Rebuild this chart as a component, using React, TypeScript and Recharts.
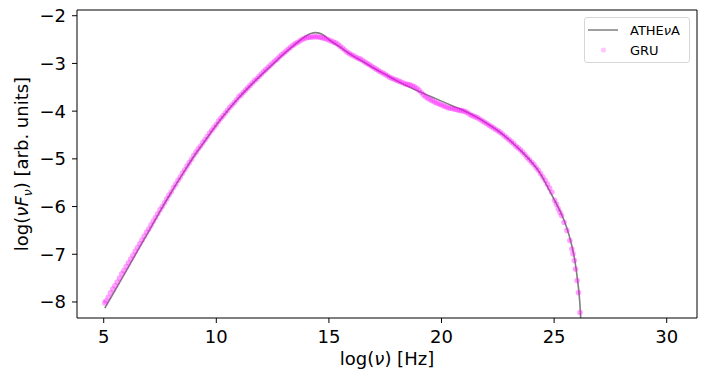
import React from 'react';
import { ComposedChart, Line, Scatter, XAxis, YAxis, Legend, ReferenceLine } from 'recharts';

// ATHEνA model curve
const ATHENA_X = [5.05, 5.5, 6, 6.5, 7, 7.5, 8, 8.5, 9, 9.5, 10, 10.5, 11, 11.5, 12, 12.5, 13, 13.5, 14, 14.2, 14.4, 14.6, 14.8, 15, 15.5, 16, 16.5, 17, 17.5, 18, 18.5, 19, 19.5, 20, 20.5, 21, 21.5, 22, 22.5, 23, 23.5, 24, 24.4, 24.7, 25.1, 25.3, 25.55, 25.75, 25.92, 26.06, 26.14, 26.18, 26.22];
const ATHENA_Y = [-8.13, -7.76, -7.35, -6.93, -6.52, -6.10, -5.70, -5.32, -4.95, -4.62, -4.29, -3.99, -3.72, -3.47, -3.24, -3.02, -2.80, -2.60, -2.42, -2.375, -2.355, -2.37, -2.42, -2.50, -2.66, -2.82, -2.96, -3.10, -3.23, -3.36, -3.48, -3.59, -3.69, -3.79, -3.89, -3.99, -4.11, -4.25, -4.41, -4.60, -4.82, -5.07, -5.32, -5.58, -5.94, -6.13, -6.43, -6.75, -7.13, -7.62, -8.0, -8.32, -8.7];

// GRU prediction points
const GRU_X = [
  5.05,
  5.1, 5.2, 5.3, 5.4, 5.5, 5.6, 5.7, 5.8, 5.9, 6.0,
  6.1, 6.2, 6.3, 6.4, 6.5, 6.6, 6.7, 6.8, 6.9, 7.0,
  7.1, 7.2, 7.3, 7.4, 7.5, 7.6, 7.7, 7.8, 7.9, 8.0,
  8.1, 8.2, 8.3, 8.4, 8.5, 8.6, 8.7, 8.8, 8.9, 9.0,
  9.1, 9.2, 9.3, 9.4, 9.5, 9.6, 9.7, 9.8, 9.9, 10.0,
  10.1, 10.2, 10.3, 10.4, 10.5, 10.6, 10.7, 10.8, 10.9, 11.0,
  11.1, 11.2, 11.3, 11.4, 11.5, 11.6, 11.7, 11.8, 11.9, 12.0,
  12.1, 12.2, 12.3, 12.4, 12.5, 12.6, 12.7, 12.8, 12.9, 13.0,
  13.1, 13.2, 13.3, 13.4, 13.5, 13.6, 13.7, 13.8, 13.9, 14.0,
  14.1, 14.2, 14.3, 14.4, 14.5, 14.6, 14.7, 14.8, 14.9, 15.0,
  15.1, 15.2, 15.3, 15.4, 15.5, 15.6, 15.7, 15.8, 15.9, 16.0,
  16.1, 16.2, 16.3, 16.4, 16.5, 16.6, 16.7, 16.8, 16.9, 17.0,
  17.1, 17.2, 17.3, 17.4, 17.5, 17.6, 17.7, 17.8, 17.9, 18.0,
  18.1, 18.2, 18.3, 18.4, 18.5, 18.6, 18.7, 18.8, 18.9, 19.0,
  19.1, 19.2, 19.3, 19.4, 19.5, 19.6, 19.7, 19.8, 19.9, 20.0,
  20.1, 20.2, 20.3, 20.4, 20.5, 20.6, 20.7, 20.8, 20.9, 21.0,
  21.1, 21.2, 21.3, 21.4, 21.5, 21.6, 21.7, 21.8, 21.9, 22.0,
  22.1, 22.2, 22.3, 22.4, 22.5, 22.6, 22.7, 22.8, 22.9, 23.0,
  23.1, 23.2, 23.3, 23.4, 23.5, 23.6, 23.7, 23.8, 23.9, 24.0,
  24.1, 24.2, 24.3, 24.4, 24.5, 24.6, 24.7, 24.8, 24.9,
  25.02, 25.1, 25.18, 25.26, 25.33, 25.44, 25.57, 25.70, 25.79, 25.84,
  25.90, 25.95, 26.02, 26.08, 26.15,
];
const GRU_Y = [
  -8.02,
  -7.98, -7.90, -7.81, -7.73, -7.66, -7.58, -7.50, -7.41, -7.34, -7.26,
  -7.18, -7.10, -7.02, -6.94, -6.86, -6.78, -6.70, -6.62, -6.54, -6.47,
  -6.39, -6.31, -6.23, -6.15, -6.07, -6.00, -5.92, -5.84, -5.76, -5.69,
  -5.60, -5.53, -5.45, -5.38, -5.30, -5.23, -5.15, -5.08, -5.01, -4.93,
  -4.86, -4.79, -4.73, -4.66, -4.60, -4.53, -4.46, -4.40, -4.34, -4.28,
  -4.21, -4.15, -4.10, -4.04, -3.98, -3.92, -3.87, -3.82, -3.76, -3.70,
  -3.66, -3.61, -3.56, -3.51, -3.46, -3.41, -3.36, -3.32, -3.27, -3.22,
  -3.17, -3.13, -3.08, -3.04, -2.99, -2.95, -2.91, -2.86, -2.82, -2.78,
  -2.74, -2.70, -2.66, -2.62, -2.59, -2.56, -2.53, -2.50, -2.48, -2.46,
  -2.45, -2.45, -2.44, -2.44, -2.44, -2.45, -2.46, -2.47, -2.49, -2.51,
  -2.53, -2.55, -2.57, -2.60, -2.64, -2.68, -2.72, -2.76, -2.79, -2.82,
  -2.84, -2.87, -2.89, -2.91, -2.94, -2.97, -3.00, -3.03, -3.06, -3.09,
  -3.12, -3.15, -3.18, -3.20, -3.23, -3.26, -3.29, -3.31, -3.33, -3.35,
  -3.37, -3.39, -3.41, -3.43, -3.44, -3.45, -3.47, -3.49, -3.52, -3.56,
  -3.61, -3.66, -3.70, -3.73, -3.76, -3.78, -3.81, -3.83, -3.85, -3.87,
  -3.89, -3.91, -3.93, -3.94, -3.95, -3.96, -3.97, -3.98, -3.99, -4.00,
  -4.02, -4.05, -4.08, -4.10, -4.12, -4.14, -4.17, -4.20, -4.23, -4.26,
  -4.29, -4.32, -4.35, -4.38, -4.41, -4.44, -4.48, -4.52, -4.56, -4.60,
  -4.64, -4.68, -4.73, -4.77, -4.81, -4.86, -4.91, -4.97, -5.02, -5.07,
  -5.12, -5.18, -5.24, -5.31, -5.38, -5.45, -5.53, -5.61, -5.70,
  -5.87, -5.95, -6.04, -6.12, -6.19, -6.33, -6.50, -6.71, -6.89, -6.99,
  -7.13, -7.31, -7.55, -7.80, -8.22,
];

const X_TICKS = [5, 10, 15, 20, 25, 30];
const Y_TICKS = [-8, -7, -6, -5, -4, -3, -2];
const X_DOMAIN = [3.814, 31.345];
const Y_DOMAIN = [-8.336, -1.88];
const SERIES_NAMES = ['ATHE\u03BDA', 'GRU'];

const athenaData = ATHENA_X.map((x, i) => ({ x, y: ATHENA_Y[i] }));
const gruData = GRU_X.map((x, i) => ({ x, y: GRU_Y[i] }));

const FONT = 'DejaVu Sans';
const fmt = (v: number) => (v < 0 ? '\u2212' + Math.abs(v) : String(v));

const GruDot = (props: any) => {
  const { cx, cy } = props;
  if (cx == null || cy == null) return null;
  return <circle cx={cx} cy={cy} r={2.8} fill="#ff00ff" fillOpacity={0.36} stroke="none" />;
};

const LegendBox = () => (
  <div
    style={{
      width: 106,
      height: 46,
      boxSizing: 'border-box',
      border: '1px solid #d6d6d6',
      borderRadius: 3,
      background: 'rgba(255,255,255,0.8)',
    }}
  >
    <svg width={104} height={44} style={{ display: 'block' }}>
      <line x1={3} y1={12} x2={33} y2={12} stroke="#808080" strokeWidth={1.5} />
      <text x={45} y={12} fontSize={13} fontFamily={FONT} dominantBaseline="central" fill="#000">
        ATHE<tspan fontStyle="italic">{'\u03BD'}</tspan>A
      </text>
      <circle cx={18.5} cy={32} r={2.6} fill="#ff00ff" fillOpacity={0.22} />
      <text x={45} y={32} fontSize={13} fontFamily={FONT} dominantBaseline="central" fill="#000">
        {SERIES_NAMES[1]}
      </text>
    </svg>
  </div>
);

export default function App() {
  return (
    <div style={{ position: 'absolute', left: 0, top: 0, width: 706, height: 385, background: '#fff' }}>
      <ComposedChart
        width={706}
        height={385}
        margin={{ top: 10, right: 9, bottom: 0, left: 0 }}
        style={{ fontFamily: FONT }}
      >
        <XAxis
          dataKey="x"
          type="number"
          domain={X_DOMAIN}
          ticks={X_TICKS}
          allowDataOverflow
          height={67}
          tickSize={5}
          tickMargin={7}
          tickFormatter={fmt}
          axisLine={{ stroke: '#000', strokeWidth: 1 }}
          tickLine={{ stroke: '#000', strokeWidth: 1 }}
          tick={{ fontSize: 18, fill: '#000', fontFamily: FONT }}
          label={{
            content: () => (
              <text x={387} y={365} textAnchor="middle" fontSize={18} fontFamily={FONT} fill="#000">
                log(<tspan fontStyle="italic">{'\u03BD'}</tspan>) [Hz]
              </text>
            ),
          }}
        />
        <YAxis
          dataKey="y"
          type="number"
          domain={Y_DOMAIN}
          ticks={Y_TICKS}
          allowDataOverflow
          width={77}
          tickSize={5}
          tickMargin={6}
          tickFormatter={fmt}
          axisLine={{ stroke: '#000', strokeWidth: 1 }}
          tickLine={{ stroke: '#000', strokeWidth: 1 }}
          tick={{ fontSize: 18, fill: '#000', fontFamily: FONT }}
          label={{
            content: () => (
              <text
                x={28}
                y={164}
                transform="rotate(-90, 28, 164)"
                textAnchor="middle"
                fontSize={18}
                fontFamily={FONT}
                fill="#000"
              >
                log(<tspan fontStyle="italic">{'\u03BD'}F</tspan>
                <tspan fontStyle="italic" fontSize={12.6} dy={3.5}>{'\u03BD'}</tspan>
                <tspan dy={-3.5}>) [arb. units]</tspan>
              </text>
            ),
          }}
        />
        <ReferenceLine x={X_DOMAIN[1]} stroke="#000" strokeWidth={1} />
        <ReferenceLine y={Y_DOMAIN[1]} stroke="#000" strokeWidth={1} />
        <Line
          data={athenaData}
          dataKey="y"
          name={SERIES_NAMES[0]}
          type="monotone"
          stroke="#808080"
          strokeWidth={1.6}
          dot={false}
          activeDot={false}
          isAnimationActive={false}
        />
        <Scatter
          data={gruData}
          dataKey="y"
          name={SERIES_NAMES[1]}
          fill="#ff00ff"
          shape={GruDot}
          isAnimationActive={false}
        />
        <Legend
          layout="vertical"
          align="center"
          verticalAlign="middle"
          wrapperStyle={{ position: 'absolute', left: 584, top: 17, width: 106, height: 46 }}
          content={() => <LegendBox />}
        />
      </ComposedChart>
    </div>
  );
}
